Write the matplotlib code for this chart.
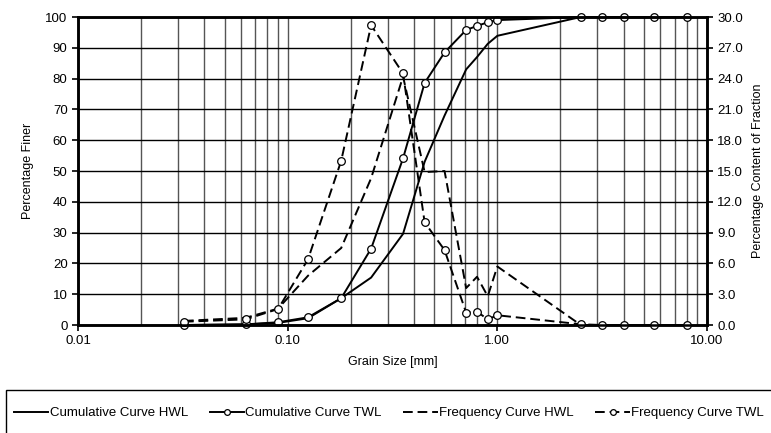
import matplotlib
matplotlib.use('Agg')
import matplotlib.pyplot as plt
from matplotlib.patches import Rectangle
from matplotlib.ticker import FixedLocator, FormatStrFormatter, LogLocator, NullFormatter

grain_size = [0.032, 0.063, 0.09, 0.125, 0.18, 0.25, 0.355, 0.45, 0.56,
              0.71, 0.8, 0.9, 1.0, 2.5, 3.15, 4.0, 5.6, 8.0]
cum_hwl = [0.0, 0.2, 0.7, 2.2, 8.7, 15.4, 29.6, 53.0, 68.0,
           83.0, 87.0, 91.3, 93.9, 100, 100, 100, 100, 100]
cum_twl = [0.0, 0.2, 0.9, 2.5, 8.7, 24.8, 54.1, 78.6, 88.5,
           95.8, 97.1, 98.3, 99.0, 100, 100, 100, 100, 100]
freq_hwl = [0.4, 0.7, 1.6, 4.8, 7.5, 14.3, 24.2, 14.9, 15.0,
            3.6, 4.7, 2.8, 5.7, 0.0, 0.0, 0.0, 0.0, 0.0]
freq_twl = [0.32, 0.55, 1.56, 6.4, 16.0, 29.2, 24.5, 10.0, 7.3,
            1.2, 1.3, 0.55, 0.95, 0.07, 0.0, 0.0, 0.0, 0.0]

x_ticks = [0.01, 0.1, 1.0, 10.0]
left_ticks = list(range(0, 101, 10))
right_ticks = [0, 3, 6, 9, 12, 15, 18, 21, 24, 27, 30]

plt.rcParams['font.family'] = ['Liberation Sans', 'DejaVu Sans']
plt.rcParams['font.size'] = 9

fig = plt.figure(figsize=(7.71, 4.33), dpi=100)
ax = fig.add_axes([0.1012, 0.2494, 0.8158, 0.7113])
ax2 = ax.twinx()

ax.set_xscale('log')
ax.set_xlim(0.01, 10)
ax.set_ylim(0, 100)
ax2.set_ylim(0, 30)

# grid: vertical at every log subdivision, horizontal at major ticks
ax.xaxis.set_major_locator(FixedLocator(x_ticks))
ax.xaxis.set_major_formatter(FormatStrFormatter('%.2f'))
ax.xaxis.set_minor_locator(LogLocator(base=10, subs=range(2, 10)))
ax.xaxis.set_minor_formatter(NullFormatter())
ax.grid(True, which='both', axis='x', color='#555555', lw=1.0)
ax.grid(True, which='major', axis='y', color='black', lw=1.0)
ax.set_axisbelow(True)

ax.set_yticks(left_ticks)
ax2.set_yticks(right_ticks)
ax2.yaxis.set_major_formatter(FormatStrFormatter('%.1f'))
ax.tick_params(axis='x', which='minor', length=0)
ax.tick_params(axis='both', which='major', length=4, width=1.2,
               direction='out', labelsize=9.5)
ax2.tick_params(axis='y', length=4, width=1.2, direction='out', labelsize=9.5)

for a in (ax, ax2):
    for s in a.spines.values():
        s.set_linewidth(1.8)
        s.set_color('black')

dash = (5, 2.5)
mk = dict(marker='o', markersize=5.5, markerfacecolor='white',
          markeredgecolor='black', markeredgewidth=0.9)

l1, = ax.plot(grain_size, cum_hwl, color='black', lw=1.4,
              label='Cumulative Curve HWL')
l2, = ax.plot(grain_size, cum_twl, color='black', lw=1.4,
              label='Cumulative Curve TWL', **mk)
l3, = ax2.plot(grain_size, freq_hwl, color='black', lw=1.4, dashes=dash,
               label='Frequency Curve HWL')
l4, = ax2.plot(grain_size, freq_twl, color='black', lw=1.4, dashes=dash,
               label='Frequency Curve TWL', **mk)
for l in (l1, l2, l3, l4):
    l.set_clip_on(False)

ax.set_xlabel('Grain Size [mm]', labelpad=6)
ax.set_ylabel('Percentage Finer', labelpad=8)
ax2.set_ylabel('Percentage Content of Fraction', labelpad=6)

# legend box runs off the right and bottom edges of the picture
fig.patches.append(Rectangle((6 / 771, -0.05), 1.0, (433 - 390) / 433 + 0.05,
                             transform=fig.transFigure, fill=False,
                             edgecolor='black', lw=1.0))
leg = fig.legend(handles=[l1, l2, l3, l4], loc='center left',
                 bbox_to_anchor=(14 / 771, 1 - 413 / 433),
                 ncol=4, frameon=False, handlelength=2.6, handletextpad=0.1,
                 columnspacing=1.65, borderaxespad=0, borderpad=0,
                 markerscale=0.75, fontsize=9.5)

fig.savefig('out.png', dpi=100)
